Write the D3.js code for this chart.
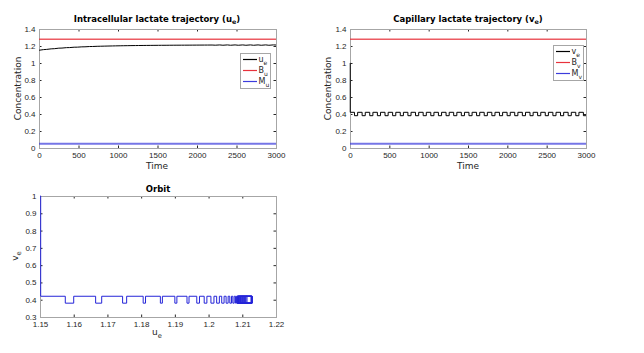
<!DOCTYPE html>
<html lang='en'>
<head>
  <meta charset='UTF-8'>
  <title>Lactate trajectories</title>
  <style type='text/css'>
    body {
      margin: 0;
      background: #fff;
      font-family: 'DejaVu Sans', sans-serif;
    }
    .tick text {
      font-size: 8px;
      fill: #262626;
    }
    .tick line {
      stroke: #262626;
    }
    .frame {
      fill: none;
      stroke: #a6a6a6;
    }
  </style>
  <script type='text/javascript' src='https://d3js.org/d3.v7.min.js'></script>
</head>
<body>
  <script type='text/javascript'>
    // tick values
    const timeTicks = [0, 500, 1000, 1500, 2000, 2500, 3000]
    const concTicks = [0, 0.2, 0.4, 0.6, 0.8, 1, 1.2, 1.4]
    const orbitUTicks = [1.15, 1.16, 1.17, 1.18, 1.19, 1.2, 1.21, 1.22]
    const orbitVTicks = [0.3, 0.4, 0.5, 0.6, 0.7, 0.8, 0.9, 1]

    // bounds
    const upperBound = 1.28
    const lowerBound = 0.05

    // switch times of the capillary square wave, with v_e after each switch and u_e at that time
    const times = [0, 3,
      57, 97, 154, 194, 251, 291, 348, 388, 445, 485, 542, 582, 639, 679, 736, 776,
      833, 873, 930, 970, 1027, 1067, 1124, 1164, 1221, 1261, 1318, 1358, 1415, 1455,
      1512, 1552, 1609, 1649, 1706, 1746, 1803, 1843, 1900, 1940, 1997, 2037, 2094, 2134,
      2191, 2231, 2288, 2328, 2385, 2425, 2482, 2522, 2579, 2619, 2676, 2716, 2773, 2813,
      2870, 2910, 2967, 3000]
    const vValues = [1, 0.42,
      0.38, 0.42, 0.38, 0.42, 0.38, 0.42, 0.38, 0.42, 0.38, 0.42, 0.38, 0.42, 0.38, 0.42, 0.38, 0.42,
      0.38, 0.42, 0.38, 0.42, 0.38, 0.42, 0.38, 0.42, 0.38, 0.42, 0.38, 0.42, 0.38, 0.42,
      0.38, 0.42, 0.38, 0.42, 0.38, 0.42, 0.38, 0.42, 0.38, 0.42, 0.38, 0.42, 0.38, 0.42,
      0.38, 0.42, 0.38, 0.42, 0.38, 0.42, 0.38, 0.42, 0.38, 0.42, 0.38, 0.42, 0.38, 0.42,
      0.38, 0.42, 0.38, 0.38]
    const uValues = [1.15, 1.1502,
      1.1575, 1.16, 1.1665, 1.1683, 1.1745, 1.1757, 1.1806, 1.1813, 1.1857, 1.1863, 1.19, 1.1906, 1.1936, 1.1942, 1.1965, 1.1973,
      1.1987, 1.1995, 1.2007, 1.2016, 1.2024, 1.2032, 1.2039, 1.2046, 1.2052, 1.2058, 1.2063, 1.2068, 1.2072, 1.2076,
      1.208, 1.2083, 1.2086, 1.2089, 1.2092, 1.2094, 1.2097, 1.2099, 1.2101, 1.2103, 1.2105, 1.2107, 1.2109, 1.2111,
      1.2114, 1.2095, 1.2126, 1.209, 1.2127, 1.2088, 1.2128, 1.2087, 1.2128, 1.2086, 1.2129, 1.2086, 1.2129, 1.2085,
      1.2129, 1.2085, 1.2129, 1.2115]

    const data = times.map((t, i) => ({t: t, u: uValues[i], v: vValues[i]}))

    const svg = d3.select('body').append('svg')
      .attr('width', 644)
      .attr('height', 353)

    const red = '#e8323c'
    const blue = '#3c3cdc'

    const panel = (box, xTicks, yTicks) => {
      const x = d3.scaleLinear().domain(d3.extent(xTicks)).range([box.left, box.right])
      const y = d3.scaleLinear().domain(d3.extent(yTicks)).range([box.bottom, box.top])
      const g = svg.append('g')

      g.append('g')
        .attr('transform', `translate(0,${box.bottom})`)
        .call(d3.axisBottom(x).tickValues(xTicks).tickFormat(d => String(d))
          .tickSizeInner(-2.5).tickSizeOuter(0).tickPadding(4.5))
        .call(a => a.select('.domain').remove())
      g.append('g')
        .attr('transform', `translate(0,${box.top})`)
        .call(d3.axisTop(x).tickValues(xTicks).tickFormat('')
          .tickSizeInner(-2.5).tickSizeOuter(0))
        .call(a => a.select('.domain').remove())
      g.append('g')
        .attr('transform', `translate(${box.left},0)`)
        .call(d3.axisLeft(y).tickValues(yTicks).tickFormat(d => String(d))
          .tickSizeInner(-2.5).tickSizeOuter(0).tickPadding(3.5))
        .call(a => a.select('.domain').remove())
      g.append('g')
        .attr('transform', `translate(${box.right},0)`)
        .call(d3.axisRight(y).tickValues(yTicks).tickFormat('')
          .tickSizeInner(-2.5).tickSizeOuter(0))
        .call(a => a.select('.domain').remove())
      g.selectAll('.tick text').attr('font-family', null)
      g.selectAll('.tick line').attr('stroke', null)

      g.append('rect')
        .attr('class', 'frame')
        .attr('x', box.left + 0.5)
        .attr('y', box.top + 0.5)
        .attr('width', box.right - box.left)
        .attr('height', box.bottom - box.top)

      return {x, y, g}
    }

    const label = (txt, sub, x, y, opts = {}) => {
      const size = opts.size || 9
      const t = svg.append('text')
        .attr('x', x)
        .attr('y', y)
        .attr('text-anchor', 'middle')
        .style('font-size', size + 'px')
        .style('font-weight', opts.bold ? 'bold' : 'normal')
        .attr('fill', opts.bold ? '#000' : '#262626')
      if (opts.rotate) t.attr('transform', `rotate(-90,${x},${y})`)
      t.append('tspan').text(txt)
      if (sub) {
        t.append('tspan').attr('dy', size * 0.3).style('font-size', (size * 0.75) + 'px').text(sub)
        if (opts.after) t.append('tspan').attr('dy', -size * 0.3).text(opts.after)
      }
      return t
    }

    const legend = (entries, x0, y0) => {
      const g = svg.append('g')
      g.append('rect')
        .attr('x', x0 + 0.5).attr('y', y0 + 0.5)
        .attr('width', 30).attr('height', 35)
        .attr('fill', '#fff').attr('stroke', '#a6a6a6')
      entries.forEach((e, i) => {
        const cy = y0 + 6.5 + i * 11
        g.append('line')
          .attr('x1', x0 + 3).attr('x2', x0 + 17)
          .attr('y1', cy).attr('y2', cy)
          .attr('stroke', e.color).attr('stroke-width', 1.2)
        const t = g.append('text')
          .attr('x', x0 + 18.5).attr('y', cy + 2.5)
          .style('font-size', '8px').attr('fill', '#262626')
        t.append('tspan').text(e.name)
        t.append('tspan').attr('dy', 2.5).style('font-size', '6px').text(e.sub)
      })
    }

    const drawSeries = (p, series, curve, key, color) => {
      p.g.append('path')
        .datum(series)
        .attr('fill', 'none')
        .attr('stroke', color)
        .attr('stroke-width', 1)
        .attr('d', d3.line().curve(curve).x(d => p.x(d.t)).y(d => p.y(d[key])))
    }

    const bounds = (p) => {
      p.g.append('line')
        .attr('x1', p.x(0)).attr('x2', p.x(3000))
        .attr('y1', p.y(upperBound)).attr('y2', p.y(upperBound))
        .attr('stroke', red).attr('stroke-width', 1.4).attr('opacity', 0.8)
      p.g.append('line')
        .attr('x1', p.x(0)).attr('x2', p.x(3000))
        .attr('y1', p.y(lowerBound)).attr('y2', p.y(lowerBound))
        .attr('stroke', blue).attr('stroke-width', 1.8).attr('opacity', 0.7)
    }

    // intracellular
    const left = panel({left: 39, right: 276, top: 29, bottom: 148}, timeTicks, concTicks)
    drawSeries(left, data, d3.curveLinear, 'u', '#000')
    bounds(left)
    label('Intracellular lactate trajectory (u', 'e', 157, 21.5, {bold: true, size: 8.5, after: ')'})
    label('Time', null, 157, 169)
    label('Concentration', null, 21, 88.5, {rotate: true})
    legend([{name: 'u', sub: 'e', color: '#000'}, {name: 'B', sub: 'u', color: red},
      {name: 'M', sub: 'u', color: blue}], 240, 53)

    // capillary
    const right = panel({left: 350, right: 586, top: 29, bottom: 148}, timeTicks, concTicks)
    drawSeries(right, data, d3.curveStepAfter, 'v', '#000')
    bounds(right)
    label('Capillary lactate trajectory (v', 'e', 468, 21.5, {bold: true, size: 8.5, after: ')'})
    label('Time', null, 468, 169)
    label('Concentration', null, 331, 88.5, {rotate: true})
    legend([{name: 'v', sub: 'e', color: '#000'}, {name: 'B', sub: 'v', color: red},
      {name: 'M', sub: 'v', color: blue}], 553, 45)

    // orbit
    const orbit = panel({left: 40, right: 276, top: 196, bottom: 317}, orbitUTicks, orbitVTicks)
    orbit.g.append('path')
      .datum(data)
      .attr('fill', 'none')
      .attr('stroke', '#2424d8')
      .attr('stroke-width', 1)
      .attr('d', d3.line().curve(d3.curveStepAfter).x(d => orbit.x(d.u)).y(d => orbit.y(d.v)))
    label('Orbit', null, 158, 192, {bold: true, size: 8.5})
    label('u', 'e', 157, 335)
    label('v', 'e', 18, 256, {rotate: true})
  </script>
</body>
</html>
